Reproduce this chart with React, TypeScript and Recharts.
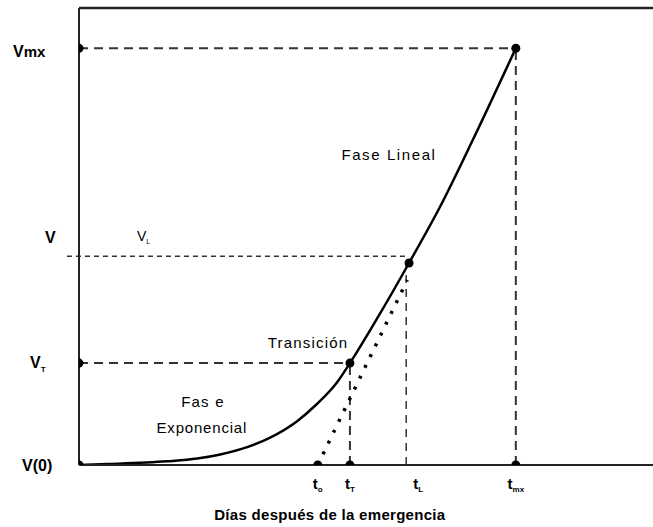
import React from "react";
import {
  ComposedChart,
  Line,
  Scatter,
  XAxis,
  YAxis,
  ReferenceLine,
  ReferenceDot,
} from "recharts";

// growth curve (days on x, volume on y, both 0..100)
const curveT = [0, 4.9, 15.3, 20.6, 24.6, 29.3, 33.3, 38.0, 41.5, 44.9, 47.2, 52.1, 57.5, 62.9, 68.6, 76.1];
const curveV = [0, 0.2, 0.8, 1.4, 2.3, 3.9, 6.0, 9.6, 13.4, 18.0, 22.3, 32.4, 44.2, 56.5, 71.1, 91.2];

// dotted tangent from t0
const tangentT = [41.6, 57.2];
const tangentV = [0, 40.5];

// x ticks
const tickTimes = [41.6, 47.2, 57.0, 76.1];
const tickNames = ["t0", "tT", "tL", "tmx"];

// y ticks
const levelValues = [0, 22.3, 45.7, 91.2];
const levelNames = ["V(0)", "VT", "V", "Vmx"];

// black markers
const markT = [0, 0, 0, 41.6, 47.2, 76.1, 47.2, 57.5, 76.1];
const markV = [91.2, 22.3, 0, 0, 0, 0, 22.3, 44.2, 91.2];

const curveData = curveT.map((t, i) => ({ t, v: curveV[i] }));
const tangentData = tangentT.map((t, i) => ({ t, v: tangentV[i] }));
const markData = markT.map((t, i) => ({ t, v: markV[i] }));

const FONT = '"Liberation Sans", Arial, sans-serif';
const GUIDE = "#333";
const FRAME = "#222";

function XTick(props: any) {
  const { x, payload } = props;
  const name: string = tickNames[tickTimes.indexOf(payload.value)] || "";
  const sub = name.slice(1);
  const shift = name === "tL" ? 12 : 0;
  return (
    <text x={x + shift} y={489} fontFamily={FONT} fontSize={15} fontWeight="bold" fill="#000" textAnchor="middle">
      t
      <tspan fontSize={8} dy={3}>
        {sub === "0" ? "o" : sub}
      </tspan>
    </text>
  );
}

function YTick(props: any) {
  const { y, payload } = props;
  const name = levelNames[levelValues.indexOf(payload.value)];
  const common = { fontFamily: FONT, fontWeight: "bold" as const, fill: "#000" };
  if (name === "Vmx")
    return (
      <text x={13} y={y + 9} fontSize={16} {...common}>
        V<tspan fontSize={15}>mx</tspan>
      </text>
    );
  if (name === "V")
    return (
      <text x={45} y={y - 13} fontSize={16} {...common}>
        V
      </text>
    );
  if (name === "VT")
    return (
      <text x={30} y={y + 5} fontSize={16} {...common}>
        V<tspan fontSize={8} dy={4}>T</tspan>
      </text>
    );
  return (
    <text x={22} y={y + 6} fontSize={16} {...common}>
      V(0)
    </text>
  );
}

function note(text: string, size: number, spacing: number, bold = false) {
  return (p: any) => (
    <text
      x={p.cx}
      y={p.cy + size * 0.35}
      textAnchor="middle"
      fontFamily={FONT}
      fontSize={size}
      fontWeight={bold ? "bold" : "normal"}
      letterSpacing={spacing}
      fill="#000"
    >
      {text}
    </text>
  );
}

function subNote(p: any) {
  return (
    <text x={p.cx - 8} y={p.cy + 5} fontFamily={FONT} fontSize={14} fill="#000">
      V<tspan fontSize={7} dy={3}>L</tspan>
    </text>
  );
}

export default function App() {
  return (
    <div style={{ position: "absolute", left: 0, top: 0, background: "#fff" }}>
      <ComposedChart width={653} height={527} margin={{ top: 8, right: 0, left: 0, bottom: 0 }}>
        <XAxis
          dataKey="t"
          type="number"
          domain={[0, 100]}
          allowDataOverflow
          ticks={tickTimes}
          interval={0}
          tick={<XTick />}
          tickLine={false}
          axisLine={{ stroke: FRAME, strokeWidth: 2 }}
          height={62}
        />
        <YAxis
          dataKey="v"
          type="number"
          domain={[0, 100]}
          allowDataOverflow
          ticks={levelValues}
          interval={0}
          tick={<YTick />}
          tickLine={false}
          axisLine={{ stroke: FRAME, strokeWidth: 2 }}
          width={79}
        />
        <ReferenceLine y={100} stroke={FRAME} strokeWidth={2.5} />
        <ReferenceLine x={0} stroke={FRAME} strokeWidth={2} />
        <ReferenceLine y={0} stroke={FRAME} strokeWidth={2} />
        <ReferenceLine segment={[{ x: 0, y: 91.2 }, { x: 76.1, y: 91.2 }]} stroke={GUIDE} strokeWidth={2} strokeDasharray="9 6" />
        <ReferenceLine
          segment={[{ x: -2.1, y: 45.7 }, { x: 57.5, y: 45.7 }]}
          stroke={GUIDE}
          strokeWidth={1.5}
          strokeDasharray="5 4"
          ifOverflow="visible"
        />
        <ReferenceLine segment={[{ x: 0, y: 22.3 }, { x: 47.2, y: 22.3 }]} stroke={GUIDE} strokeWidth={2} strokeDasharray="9 6" />
        <ReferenceLine segment={[{ x: 47.2, y: 0 }, { x: 47.2, y: 22.3 }]} stroke={GUIDE} strokeWidth={2} strokeDasharray="9 6" />
        <ReferenceLine segment={[{ x: 57.0, y: 0 }, { x: 57.0, y: 44.2 }]} stroke={GUIDE} strokeWidth={1.5} strokeDasharray="8 6" />
        <ReferenceLine segment={[{ x: 76.1, y: 0 }, { x: 76.1, y: 91.2 }]} stroke={GUIDE} strokeWidth={2} strokeDasharray="9 6" />
        <Line
          data={tangentData}
          dataKey="v"
          type="linear"
          stroke="#000"
          strokeWidth={3.5}
          strokeDasharray="3 9"
          dot={false}
          isAnimationActive={false}
        />
        <Line
          data={curveData}
          dataKey="v"
          type="monotone"
          stroke="#000"
          strokeWidth={2.5}
          dot={false}
          isAnimationActive={false}
        />
        <Scatter
          data={markData}
          dataKey="v"
          fill="#000"
          isAnimationActive={false}
          shape={(p: any) => <circle cx={p.cx} cy={p.cy} r={4.5} fill="#000" />}
        />
        <ReferenceDot x={54.0} y={67.8} r={1} shape={note("Fase Lineal", 15, 1.6)} />
        <ReferenceDot x={39.9} y={26.7} r={1} shape={note("Transición", 15, 1.2)} />
        <ReferenceDot x={21.6} y={13.8} r={1} shape={note("Fas e", 15, 1.2)} />
        <ReferenceDot x={21.4} y={8.1} r={1} shape={note("Exponencial", 15, 0.8)} />
        <ReferenceDot x={11.5} y={50.1} r={1} shape={subNote} />
        <ReferenceDot
          x={43.7}
          y={-10.9}
          r={1}
          ifOverflow="visible"
          shape={note("Días después de la emergencia", 15, 0.3, true)}
        />
      </ComposedChart>
    </div>
  );
}
